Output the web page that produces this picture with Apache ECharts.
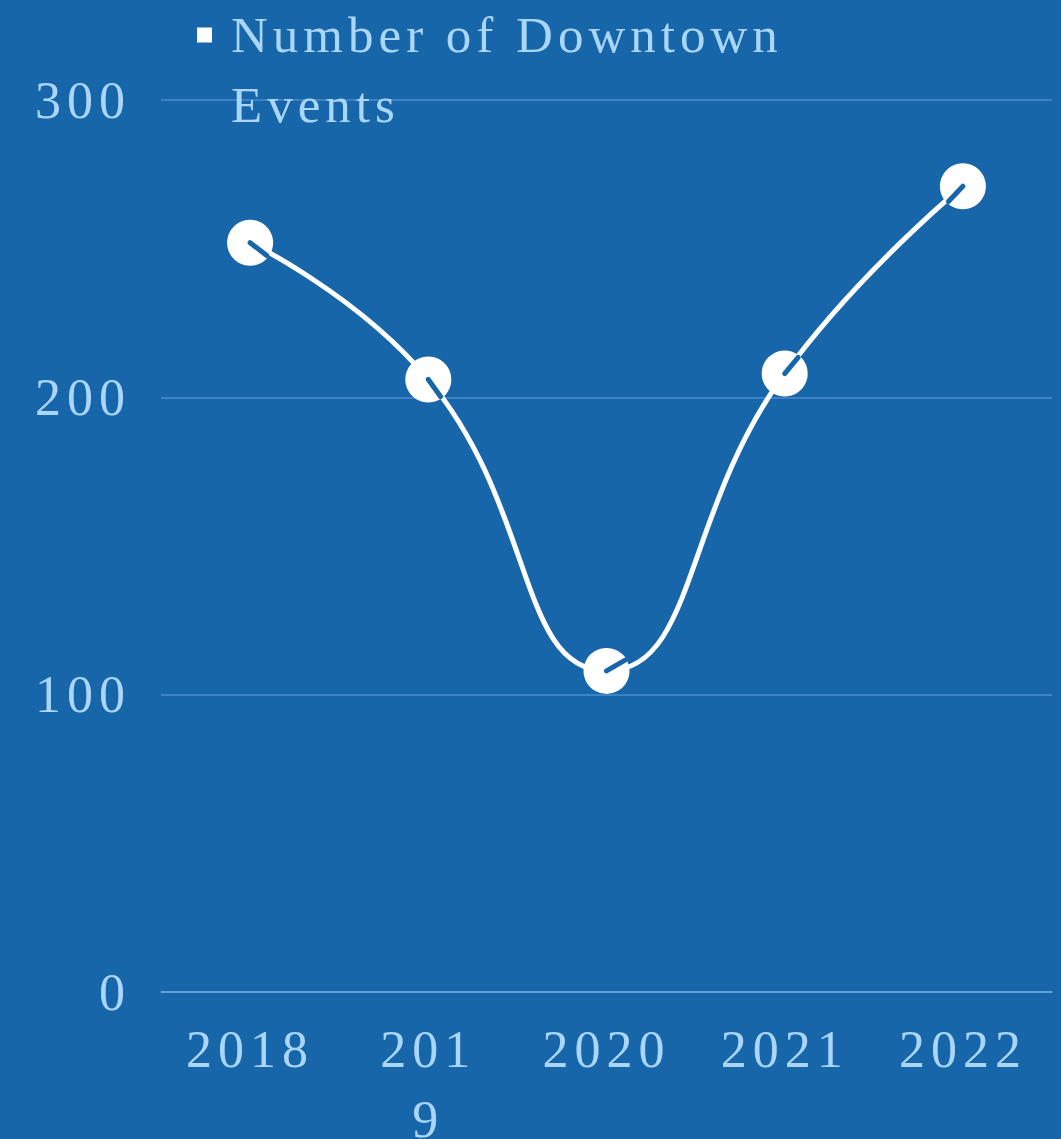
<!DOCTYPE html>
<html>
<head>
<meta charset="utf-8">
<script src="https://cdn.jsdelivr.net/npm/echarts@6/dist/echarts.min.js"></script>
<style>
  html, body { margin: 0; padding: 0; background: #1766AA; }
  #chart { width: 1061px; height: 1139px; }
  #chart text { letter-spacing: 6px; }
  #chart text[style*="51px"] { letter-spacing: 5px; }
</style>
</head>
<body>
<div id="chart"></div>
<script>
const years = ['2018', '2019', '2020', '2021', '2022'];
const events = [252, 206, 108, 208, 271];
const seriesName = 'Number of Downtown Events';
const yTicks = { min: 0, max: 300, interval: 100 };

const BG = '#1766AA';
const LABEL = '#AAD6FA';
const FONT = "'Liberation Serif', 'Times New Roman', serif";

const chart = echarts.init(document.getElementById('chart'), null, { renderer: 'svg' });

chart.setOption({
  backgroundColor: BG,
  animation: false,
  grid: { left: 161, right: 9, top: 100, bottom: 147, containLabel: false, outerBoundsMode: 'none' },
  legend: {
    data: [{ name: seriesName, icon: 'path://M0,0L15,0L15,15L0,15Z M0,85L15,85Z' }],
    left: 197,
    top: 0,
    padding: 0,
    itemWidth: 15,
    itemHeight: 85,
    itemStyle: { color: '#FFFFFF', borderWidth: 0 },
    textStyle: {
      color: LABEL, fontFamily: FONT, fontSize: 51, lineHeight: 70,
      width: 520, overflow: 'break', padding: [0, 0, 0, 14]
    }
  },
  xAxis: {
    type: 'category',
    data: years,
    boundaryGap: true,
    axisLine: { show: true, lineStyle: { color: '#72AADD', width: 1.5 } },
    axisTick: { show: false },
    axisLabel: {
      color: LABEL, fontFamily: FONT, fontSize: 52, lineHeight: 70, margin: 22,
      formatter: v => (v === '2019' ? '201\n9' : v)
    }
  },
  yAxis: {
    type: 'value',
    min: yTicks.min, max: yTicks.max, interval: yTicks.interval,
    axisLine: { show: false },
    axisTick: { show: false },
    splitLine: { lineStyle: { color: '#4C8CCB', width: 1.5 } },
    axisLabel: { color: LABEL, fontFamily: FONT, fontSize: 52, margin: 30 }
  },
  series: [
    {
      name: seriesName,
      type: 'line',
      data: events,
      smooth: true,
      symbol: 'none',
      lineStyle: { color: '#FFFFFF', width: 5 },
      itemStyle: { color: '#FFFFFF' },
      z: 2
    },
    {
      name: 'markers',
      type: 'scatter',
      data: events,
      symbol: 'circle',
      symbolSize: 46,
      itemStyle: { color: '#FFFFFF', opacity: 1 },
      emphasis: { disabled: true },
      z: 3
    },
    {
      name: 'inner',
      type: 'custom',
      data: events.map((v, i) => [i, v]),
      z: 4,
      silent: true,
      renderItem: function (params, api) {
        const i = params.dataIndex;
        const n = events.length;
        const P = k => api.coord([k, events[k]]);
        const c = P(i);
        const norm = v => { const l = Math.hypot(v[0], v[1]) || 1; return [v[0] / l, v[1] / l]; };
        let chord, tang;
        if (i < n - 1) { const b = P(i + 1); chord = [b[0] - c[0], b[1] - c[1]]; }
        else { const a = P(i - 1); chord = [a[0] - c[0], a[1] - c[1]]; }
        chord = norm(chord);
        if (i > 0 && i < n - 1) {
          const a = P(i - 1), b = P(i + 1);
          tang = norm([b[0] - a[0], b[1] - a[1]]);
        } else {
          tang = chord;
        }
        const d = norm([(chord[0] + tang[0]) / 2, (chord[1] + tang[1]) / 2]);
        const L = 21;
        return {
          type: 'line',
          shape: { x1: c[0], y1: c[1], x2: c[0] + d[0] * L, y2: c[1] + d[1] * L },
          style: { stroke: BG, lineWidth: 5, lineCap: 'round' }
        };
      }
    }
  ]
});
</script>
</body>
</html>
